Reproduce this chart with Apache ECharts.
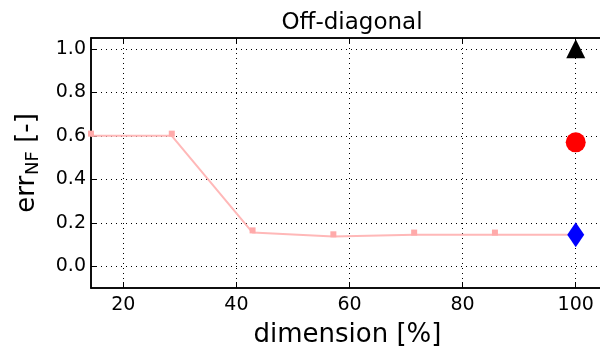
<!DOCTYPE html>
<html>
<head>
<meta charset="utf-8">
<script src="https://cdn.jsdelivr.net/npm/echarts@6/dist/echarts.min.js"></script>
<style>
  html, body { margin: 0; padding: 0; background: #fff; }
  #chart { width: 600px; height: 350px; }
</style>
</head>
<body>
<div id="chart"></div>
<script>
// Sample dimensions (percent of full size) and the off-diagonal error at each
const dims = [14.2857, 28.5714, 42.8571, 57.1429, 71.4286, 85.7143, 100];
const errLine = [0.600, 0.600, 0.155, 0.137, 0.145, 0.145, 0.145];
const errMarks = [0.610, 0.610, 0.165, 0.147, 0.155, 0.155];
// Reference results at full dimension
const refTriangle = [[100, 1.0]];
const refCircle = [[100, 0.57]];
const refDiamond = [[100, 0.145]];
// Axis ranges and ticks
const xMin = 14.2857, xMax = 105;
const yMin = -0.1, yMax = 1.05;
const xTicks = [20, 40, 60, 80, 100];
const yTicks = [0.0, 0.2, 0.4, 0.6, 0.8, 1.0];

const FONT = 'DejaVu Sans';
const chart = echarts.init(document.getElementById('chart'), null, { renderer: 'canvas' });

const dotted = { show: true, lineStyle: { color: '#000', type: [1, 4], width: 1 } };

chart.setOption({
  animation: false,
  backgroundColor: '#fff',
  title: {
    text: 'Off-diagonal',
    left: 347, top: 7, textAlign: 'center',
    textStyle: { fontFamily: FONT, fontSize: 23, fontWeight: 'normal', color: '#000' }
  },
  grid: {
    left: 91, top: 38, right: -4, bottom: 62,
    outerBoundsMode: 'none', containLabel: false,
    show: true, borderColor: '#000', borderWidth: 1.5, backgroundColor: 'transparent'
  },
  xAxis: [{
    type: 'value', min: xMin, max: xMax, position: 'bottom',
    name: 'dimension [%]', nameLocation: 'middle', nameGap: 34,
    nameTextStyle: { fontFamily: FONT, fontSize: 26, color: '#000', verticalAlign: 'top' },
    axisLine: { show: true, onZero: false, lineStyle: { color: '#000', width: 1.5 } },
    axisTick: { show: true, inside: true, length: 6, customValues: xTicks, lineStyle: { color: '#000', width: 1 } },
    axisLabel: { customValues: xTicks, fontFamily: FONT, fontSize: 19, color: '#000', margin: 8 },
    splitLine: dotted
  }, {
    type: 'value', min: xMin, max: xMax, position: 'top',
    axisLine: { show: true, onZero: false, lineStyle: { color: '#000', width: 1.5 } },
    axisTick: { show: true, inside: true, length: 6, customValues: xTicks, lineStyle: { color: '#000', width: 1 } },
    axisLabel: { show: false },
    splitLine: { show: false }
  }],
  yAxis: {
    type: 'value', min: yMin, max: yMax,
    name: '{a|err}{s|NF}{a| [-]}', nameLocation: 'middle', nameGap: 49,
    nameTextStyle: {
      color: '#000',
      rich: {
        a: { fontFamily: FONT, fontSize: 26, color: '#000' },
        s: { fontFamily: FONT, fontSize: 18, color: '#000', padding: [11, 0, 0, 1] }
      }
    },
    axisLine: { show: true, onZero: false, lineStyle: { color: '#000', width: 1.5 } },
    axisTick: { show: true, inside: true, length: 6, customValues: yTicks, lineStyle: { color: '#000', width: 1 } },
    axisLabel: {
      customValues: yTicks, fontFamily: FONT, fontSize: 19, color: '#000', margin: 5,
      formatter: v => v.toFixed(1)
    },
    splitLine: dotted
  },
  series: [
    {
      type: 'line', data: dims.map((d, i) => [d, errLine[i]]),
      showSymbol: false, symbol: 'none', clip: true,
      lineStyle: { color: '#ffb8b8', width: 2 }, z: 3
    },
    {
      type: 'scatter', data: dims.slice(0, errMarks.length).map((d, i) => [d, errMarks[i]]),
      symbol: 'rect', symbolSize: 6, clip: true,
      itemStyle: { color: '#ffaaaa', opacity: 1 }, z: 4
    },
    {
      type: 'scatter', data: refTriangle, symbol: 'triangle', symbolSize: [19, 19],
      itemStyle: { color: '#000', opacity: 1 }, clip: false, z: 5
    },
    {
      type: 'scatter', data: refCircle, symbol: 'circle', symbolSize: 20,
      itemStyle: { color: '#ff0000', opacity: 1 }, clip: false, z: 5
    },
    {
      type: 'scatter', data: refDiamond, symbol: 'diamond', symbolSize: [17, 25],
      itemStyle: { color: '#0000ff', opacity: 1 }, clip: false, z: 5
    }
  ]
});
</script>
</body>
</html>
